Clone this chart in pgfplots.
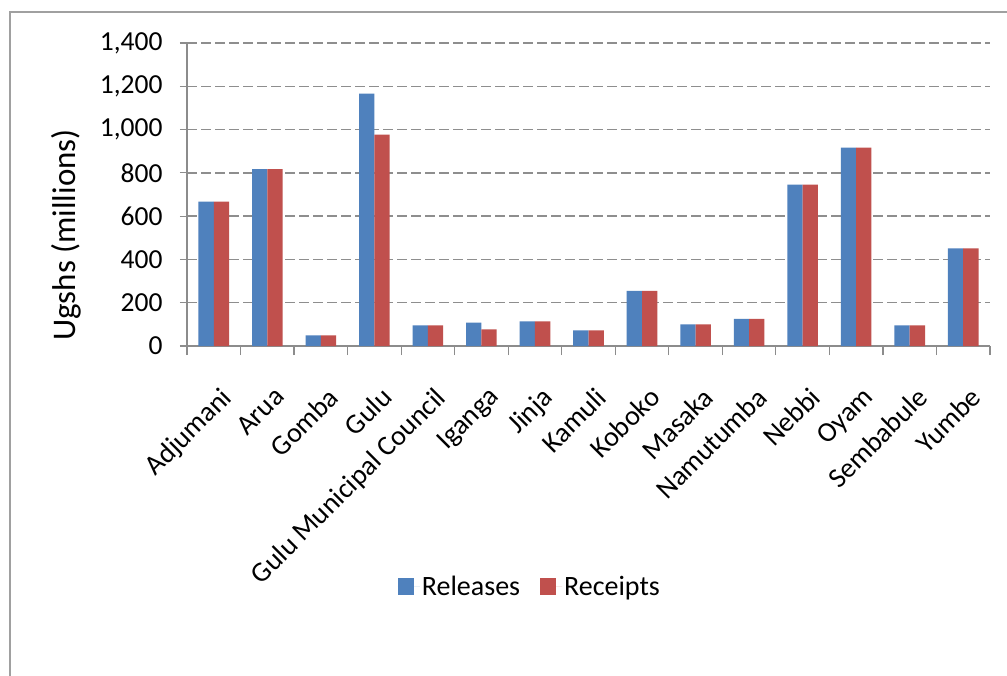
\documentclass[border=0pt]{standalone}
\usepackage{pgfplots}
\pgfplotsset{compat=1.18}
\usepackage{fontspec}
\setmainfont{Carlito}
\definecolor{relblue}{HTML}{4F81BD}
\definecolor{recred}{HTML}{C0504D}
\definecolor{axgray}{HTML}{8C8C8C}
\definecolor{gridgray}{HTML}{8E8E8E}
\definecolor{framegray}{HTML}{A0A0A0}
\newcommand{\tickfont}{\fontsize{27.5bp}{32bp}\selectfont}
\newcommand{\catfont}{\fontsize{28bp}{32bp}\selectfont}
\begin{document}
\begin{tikzpicture}
\useasboundingbox (0,0) rectangle (1007bp,676bp);
\fill[white] (0,0) rectangle (1007bp,676bp);
\draw[line width=2bp, color=framegray] (10bp,0bp) -- (10bp,664bp) -- (1007bp,664bp);
\node[rotate=90, font=\fontsize{33bp}{38bp}\selectfont] at (66bp,441bp) {Ugshs (millions)};
\begin{axis}[
  at={(187bp,330bp)}, anchor=south west,
  scale only axis, width=803bp, height=303bp,
  ybar=0pt, bar width=15.3bp,
  xmin=-0.5, xmax=14.5, ymin=0, ymax=1400,
  ytick={0,200,...,1400},
  xtick={0,...,14},
  xticklabels={Adjumani,Arua,Gomba,Gulu,Gulu Municipal Council,Iganga,Jinja,Kamuli,Koboko,Masaka,Namutumba,Nebbi,Oyam,Sembabule,Yumbe},
  minor xtick={-0.5,0.5,...,14.5},
  axis x line*=bottom, axis y line*=left,
  axis line style={axgray, line width=1.2bp, -},
  tick align=outside,
  major tick length=7bp, minor tick length=9bp,
  every tick/.style={axgray, line width=1.2bp},
  major x tick style={draw=none},
  ymajorgrids,
  grid style={gridgray, line width=1.3bp, dash pattern=on 10bp off 4bp},
  /pgf/number format/.cd, 1000 sep={,}, assume math mode=true, /pgfplots/.cd,
  yticklabel style={font=\tickfont, text=black, xshift=-14bp},
  xticklabel style={rotate=45, anchor=north east, font=\catfont, text=black, inner sep=1bp, xshift=-18bp, yshift=-26bp},
  legend style={at={(axis description cs:0.427,-0.795)}, anchor=center, draw=none, fill=none,
    legend columns=2, font=\catfont,
    /tikz/every even column/.append style={column sep=18bp}},
  legend image code/.code={\fill[#1] (0bp,-8bp) rectangle (16bp,9bp); \path (0bp,0bp) -- (22bp,0bp);},
]
\addplot[fill=relblue, draw=none] coordinates {(0,667) (1,817) (2,49) (3,1166) (4,95) (5,108) (6,114) (7,72) (8,255) (9,100) (10,125) (11,746) (12,917) (13,95) (14,451)};
\addplot[fill=recred, draw=none] coordinates {(0,667) (1,817) (2,49) (3,977) (4,95) (5,77) (6,114) (7,72) (8,255) (9,100) (10,125) (11,746) (12,917) (13,95) (14,451)};
\legend{Releases, Receipts}
\end{axis}
\end{tikzpicture}
\end{document}
